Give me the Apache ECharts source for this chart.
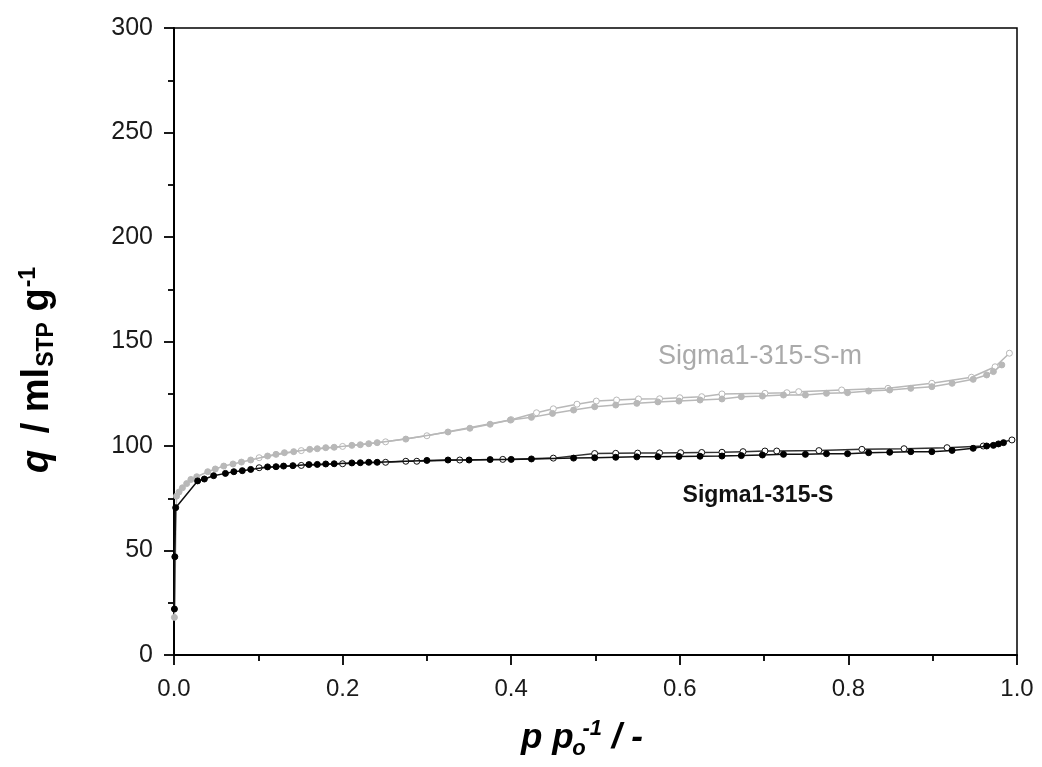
<!DOCTYPE html>
<html>
<head>
<meta charset="utf-8">
<script src="https://cdn.jsdelivr.net/npm/echarts@6/dist/echarts.min.js"></script>
<style>
html, body { margin: 0; padding: 0; background: #fff; }
#chart { width: 1042px; height: 767px; }
</style>
</head>
<body>
<div id="chart"></div>
<script>
// Sigma1-315-S  (black) : adsorption filled, desorption open
var sAds = [[0.0005,22],[0.001,47],[0.002,70.5],[0.028,83.3],[0.036,84.2],[0.047,85.8],[0.061,86.9],[0.071,87.7],
    [0.081,88.2],[0.091,88.8],[0.111,90.0],[0.121,90.1],[0.130,90.4],[0.141,90.6],[0.160,91.1],[0.170,91.2],
    [0.180,91.4],[0.190,91.5],[0.211,91.9],[0.221,92.0],[0.231,92.2],[0.241,92.2],[0.300,93.1],[0.325,93.3],
    [0.350,93.3],[0.375,93.5],[0.400,93.6],[0.424,93.8],[0.474,94.2],[0.499,94.4],[0.524,94.6],[0.549,94.8],
    [0.574,94.9],[0.599,95.0],[0.624,95.1],[0.650,95.2],[0.673,95.4],[0.698,95.7],[0.723,96.0],[0.749,96.0],
    [0.774,96.3],[0.799,96.3],[0.824,96.8],[0.849,97.0],[0.874,97.3],[0.899,97.3],[0.923,97.9],[0.948,98.9],
    [0.964,100.0],[0.972,100.3],[0.978,101.0],[0.984,101.6]];
var sDes = [[0.994,102.9],[0.960,100.0],[0.917,99.2],[0.866,98.7],[0.816,98.4],[0.765,97.8],[0.715,97.6],
    [0.701,97.6],[0.675,97.3],[0.650,97.0],[0.626,96.9],[0.601,96.8],[0.576,96.7],[0.550,96.6],[0.524,96.5],
    [0.499,96.4],[0.450,94.2],[0.390,93.6],[0.339,93.3],[0.288,92.7],[0.275,92.7],[0.251,92.2],[0.200,91.5],
    [0.151,90.7],[0.101,89.6]];

// Sigma1-315-S-m  (grey)
var mAds = [[0.0005,18],[0.003,76],[0.006,78],[0.010,80],[0.015,82],[0.020,84],[0.027,85.3],[0.040,87.7],
    [0.049,89.0],[0.059,90.4],[0.070,91.4],[0.080,92.3],[0.091,93.3],[0.111,95.2],[0.121,96.0],[0.131,96.8],
    [0.142,97.3],[0.161,98.4],[0.170,98.7],[0.180,99.2],[0.190,99.4],[0.211,100.3],[0.221,100.6],[0.231,101.1],
    [0.241,101.6],[0.275,103.3],[0.325,106.7],[0.351,108.5],[0.375,110.4],[0.399,112.4],[0.424,113.7],
    [0.449,115.6],[0.474,117.2],[0.499,118.8],[0.524,119.6],[0.549,120.4],[0.574,121.1],[0.599,121.5],
    [0.624,122.0],[0.650,122.5],[0.673,123.6],[0.698,123.9],[0.723,124.4],[0.749,124.4],[0.774,125.2],
    [0.799,125.5],[0.824,126.3],[0.849,126.8],[0.874,127.6],[0.899,128.4],[0.923,130.0],[0.948,131.9],
    [0.964,134.0],[0.972,135.6],[0.982,138.8]];
var mDes = [[0.991,144.4],[0.974,137.9],[0.946,132.9],[0.899,130.0],[0.847,127.6],[0.792,126.8],[0.741,126.0],
    [0.727,125.5],[0.701,125.2],[0.650,124.9],[0.626,123.6],[0.600,123.1],[0.576,122.6],[0.551,122.5],
    [0.525,122.0],[0.501,121.5],[0.478,120.0],[0.450,117.8],[0.430,115.9],[0.400,112.6],[0.300,104.9],
    [0.251,102.0],[0.200,99.8],[0.151,97.8],[0.101,94.4]];

var font = 'Liberation Sans, Arial, sans-serif';
var grey = '#b8b8b8';

function line(name, data, lineColor, fill, border, z) {
    return {
        name: name,
        type: 'line',
        data: data,
        z: z,
        symbol: 'circle',
        symbolSize: 6,
        showAllSymbol: true,
        lineStyle: { color: lineColor, width: 1.5 },
        itemStyle: { color: fill, borderColor: border, borderWidth: 1 },
        emphasis: { disabled: true },
        animation: false
    };
}

var tickStyle = { color: '#000', width: 1.8 };

var chart = echarts.init(document.getElementById('chart'));
chart.setOption({
    backgroundColor: '#fff',
    animation: false,
    grid: { left: 174, right: 25, top: 28, bottom: 112, show: true, borderColor: '#000', borderWidth: 1.5 },
    xAxis: {
        type: 'value', min: 0, max: 1, interval: 0.2,
        axisLine: { show: true, lineStyle: { color: '#000', width: 2 } },
        axisTick: { show: true, inside: false, length: 10, lineStyle: tickStyle },
        minorTick: { show: true, splitNumber: 2, length: 6, lineStyle: tickStyle },
        splitLine: { show: false },
        axisLabel: { fontFamily: font, fontSize: 24, color: '#1a1a1a', margin: 22,
            formatter: function (v) { return v.toFixed(1); } }
    },
    yAxis: {
        type: 'value', min: 0, max: 300, interval: 50,
        axisLine: { show: true, lineStyle: { color: '#000', width: 2 } },
        axisTick: { show: true, inside: false, length: 10, lineStyle: tickStyle },
        minorTick: { show: true, splitNumber: 2, length: 6, lineStyle: tickStyle },
        splitLine: { show: false },
        axisLabel: { fontFamily: font, fontSize: 25, color: '#1a1a1a', margin: 21 }
    },
    series: [
        line('m-des', mDes, grey, '#fff', grey, 2),
        line('m-ads', mAds, grey, grey, grey, 3),
        line('s-des', sDes, '#333', '#fff', '#111', 4),
        line('s-ads', sAds, '#111', '#000', '#000', 5)
    ],
    graphic: [
        {
            type: 'text', x: 38, y: 370, rotation: Math.PI / 2,
            style: {
                text: '{i|q}{b| / ml}{sub|STP}{b| g}{sup|-1}',
                align: 'center', verticalAlign: 'middle',
                rich: {
                    i: { fontFamily: font, fontSize: 38, fontWeight: 'bold', fontStyle: 'italic', fill: '#000', lineHeight: 48, padding: [0, 6, 0, 0] },
                    b: { fontFamily: font, fontSize: 38, fontWeight: 'bold', fill: '#000', lineHeight: 48 },
                    sub: { fontFamily: font, fontSize: 23, fontWeight: 'bold', fill: '#000', lineHeight: 48, padding: [18, 0, 0, 1] },
                    sup: { fontFamily: font, fontSize: 23, fontWeight: 'bold', fill: '#000', lineHeight: 48, padding: [0, 0, 18, 1] }
                }
            }
        },
        {
            type: 'text', x: 582, y: 738,
            style: {
                text: '{i|p p}{sub|o}{sup|-1}{b| / -}',
                align: 'center', verticalAlign: 'middle',
                rich: {
                    i: { fontFamily: font, fontSize: 35, fontWeight: 'bold', fontStyle: 'italic', fill: '#000', lineHeight: 44 },
                    b: { fontFamily: font, fontSize: 35, fontWeight: 'bold', fontStyle: 'italic', fill: '#000', lineHeight: 44 },
                    sub: { fontFamily: font, fontSize: 22, fontWeight: 'bold', fontStyle: 'italic', fill: '#000', lineHeight: 44, width: 1, padding: [22, 0, 0, 5] },
                    sup: { fontFamily: font, fontSize: 22, fontWeight: 'bold', fontStyle: 'italic', fill: '#000', lineHeight: 44, padding: [0, 0, 18, 3] }
                }
            }
        },
        {
            type: 'text', x: 760, y: 357,
            style: { text: 'Sigma1-315-S-m', fontFamily: font, fontSize: 27, fill: '#aaa', align: 'center', verticalAlign: 'middle' }
        },
        {
            type: 'text', x: 758, y: 496,
            style: { text: 'Sigma1-315-S', fontFamily: font, fontSize: 23, fontWeight: 'bold', fill: '#111', align: 'center', verticalAlign: 'middle' }
        }
    ]
});
</script>
</body>
</html>
